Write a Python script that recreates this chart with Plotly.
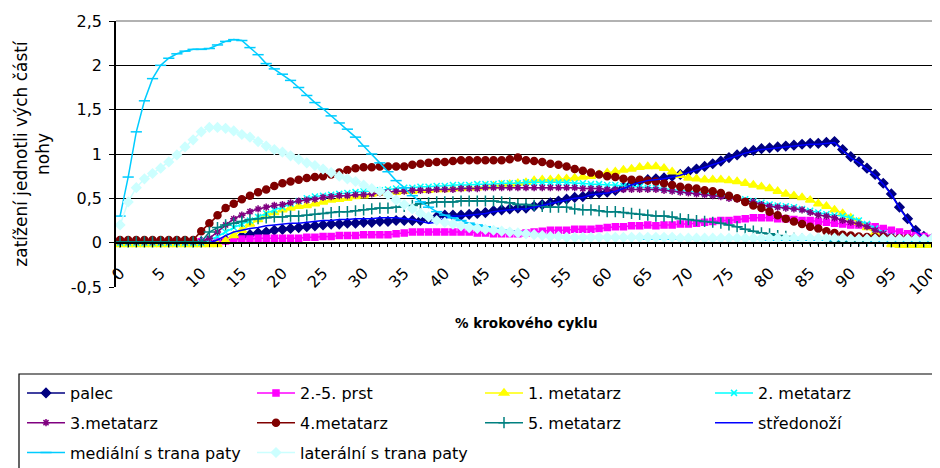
import plotly.graph_objects as go

# ---------------- data ----------------
pct = list(range(101))  # % krokového cyklu (categories 0..100)

x_tick_vals = [0, 5, 10, 15, 20, 25, 30, 35, 40, 45, 50, 55, 60, 65, 70, 75, 80, 85, 90, 95, 100]
x_tick_text = ["0", "5", "10", "15", "20", "25", "30", "35", "40", "45", "50",
               "55", "60", "65", "70", "75", "80", "85", "90", "95", "100"]
y_tick_vals = [-0.5, 0, 0.5, 1, 1.5, 2, 2.5]
y_tick_text = ["-0,5", "0", "0,5", "1", "1,5", "2", "2,5"]

palec = [
    0.01, 0.01, 0.01, 0.01, 0.01, 0.01, 0.01, 0.01, 0.01, 0.01,
    0.01, 0.01, 0.01, 0.03, 0.05, 0.07, 0.09, 0.11, 0.12, 0.14,
    0.15, 0.16, 0.17, 0.18, 0.19, 0.20, 0.21, 0.21, 0.22, 0.22,
    0.23, 0.23, 0.24, 0.24, 0.25, 0.25, 0.25, 0.25, 0.27, 0.29,
    0.31, 0.31, 0.31, 0.32, 0.33, 0.34, 0.36, 0.37, 0.38, 0.39,
    0.39, 0.41, 0.43, 0.45, 0.47, 0.49, 0.51, 0.52, 0.55, 0.56,
    0.57, 0.59, 0.62, 0.66, 0.69, 0.71, 0.72, 0.73, 0.75, 0.77,
    0.80, 0.83, 0.86, 0.89, 0.92, 0.96, 0.99, 1.02, 1.04, 1.06,
    1.07, 1.08, 1.09, 1.10, 1.11, 1.12, 1.12, 1.13, 1.14, 1.05,
    0.97, 0.91, 0.84, 0.77, 0.67, 0.55, 0.40, 0.27, 0.14, 0.07,
    0.04]

prst = [
    0.01, 0.01, 0.01, 0.01, 0.01, 0.01, 0.01, 0.01, 0.01, 0.01,
    0.01, 0.01, 0.01, 0.02, 0.03, 0.04, 0.04, 0.05, 0.05, 0.05,
    0.05, 0.05, 0.05, 0.06, 0.06, 0.07, 0.07, 0.08, 0.08, 0.08,
    0.09, 0.09, 0.09, 0.09, 0.10, 0.11, 0.12, 0.12, 0.12, 0.12,
    0.12, 0.12, 0.12, 0.12, 0.11, 0.11, 0.10, 0.10, 0.10, 0.10,
    0.11, 0.12, 0.13, 0.14, 0.14, 0.14, 0.15, 0.15, 0.15, 0.16,
    0.17, 0.18, 0.18, 0.19, 0.19, 0.20, 0.19, 0.20, 0.20, 0.21,
    0.21, 0.22, 0.23, 0.24, 0.25, 0.25, 0.26, 0.27, 0.28, 0.28,
    0.28, 0.27, 0.27, 0.26, 0.25, 0.25, 0.24, 0.23, 0.22, 0.21,
    0.20, 0.20, 0.19, 0.18, 0.16, 0.14, 0.12, 0.10, 0.08, 0.07,
    0.05]

metatarz1 = [
    -0.02, -0.02, -0.02, -0.02, -0.02, -0.02, -0.02, -0.02, -0.02, -0.02,
    -0.02, -0.02, -0.02, 0.02, 0.08, 0.14, 0.21, 0.26, 0.31, 0.34,
    0.37, 0.39, 0.41, 0.42, 0.44, 0.46, 0.48, 0.49, 0.50, 0.52,
    0.53, 0.55, 0.56, 0.57, 0.57, 0.58, 0.58, 0.59, 0.59, 0.60,
    0.60, 0.61, 0.61, 0.62, 0.62, 0.63, 0.64, 0.65, 0.66, 0.67,
    0.68, 0.70, 0.71, 0.71, 0.72, 0.72, 0.73, 0.74, 0.75, 0.77,
    0.79, 0.80, 0.82, 0.83, 0.85, 0.86, 0.86, 0.84, 0.80, 0.76,
    0.73, 0.72, 0.71, 0.71, 0.71, 0.70, 0.69, 0.67, 0.65, 0.63,
    0.61, 0.58, 0.55, 0.53, 0.51, 0.48, 0.44, 0.41, 0.37, 0.33,
    0.28, 0.23, 0.17, 0.11, 0.04, -0.02, -0.03, -0.03, -0.03, -0.03,
    -0.03]

metatarz2 = [
    0.00, 0.00, 0.00, 0.00, 0.00, 0.00, 0.00, 0.00, 0.00, 0.00,
    0.00, 0.03, 0.07, 0.12, 0.17, 0.21, 0.25, 0.29, 0.33, 0.37,
    0.40, 0.44, 0.47, 0.50, 0.52, 0.53, 0.54, 0.55, 0.56, 0.57,
    0.58, 0.58, 0.59, 0.60, 0.61, 0.62, 0.62, 0.63, 0.63, 0.64,
    0.64, 0.65, 0.65, 0.65, 0.66, 0.66, 0.66, 0.67, 0.67, 0.67,
    0.68, 0.68, 0.68, 0.68, 0.68, 0.68, 0.67, 0.67, 0.66, 0.66,
    0.65, 0.65, 0.64, 0.63, 0.63, 0.62, 0.62, 0.61, 0.60, 0.59,
    0.58, 0.57, 0.56, 0.55, 0.54, 0.52, 0.50, 0.49, 0.47, 0.45,
    0.43, 0.42, 0.41, 0.40, 0.38, 0.36, 0.34, 0.32, 0.31, 0.30,
    0.28, 0.25, 0.21, 0.16, 0.11, 0.07, 0.05, 0.04, 0.03, 0.03,
    0.02]

metatarz3 = [
    0.01, 0.01, 0.01, 0.01, 0.01, 0.01, 0.01, 0.01, 0.01, 0.01,
    0.01, 0.05, 0.12, 0.20, 0.27, 0.31, 0.35, 0.38, 0.40, 0.42,
    0.43, 0.45, 0.47, 0.48, 0.49, 0.51, 0.52, 0.53, 0.53, 0.54,
    0.54, 0.55, 0.56, 0.57, 0.58, 0.58, 0.59, 0.59, 0.59, 0.60,
    0.60, 0.60, 0.61, 0.61, 0.61, 0.62, 0.62, 0.62, 0.62, 0.62,
    0.62, 0.62, 0.62, 0.62, 0.62, 0.62, 0.62, 0.61, 0.61, 0.61,
    0.60, 0.60, 0.60, 0.60, 0.60, 0.60, 0.60, 0.59, 0.58, 0.57,
    0.56, 0.55, 0.54, 0.53, 0.52, 0.50, 0.49, 0.47, 0.46, 0.43,
    0.41, 0.40, 0.39, 0.38, 0.37, 0.34, 0.31, 0.30, 0.28, 0.25,
    0.23, 0.21, 0.18, 0.14, 0.10, 0.07, 0.06, 0.05, 0.05, 0.05,
    0.04]

metatarz4 = [
    0.03, 0.03, 0.03, 0.03, 0.03, 0.03, 0.03, 0.03, 0.03, 0.03,
    0.13, 0.22, 0.31, 0.39, 0.44, 0.49, 0.53, 0.57, 0.60, 0.64,
    0.67, 0.69, 0.71, 0.73, 0.74, 0.75, 0.77, 0.79, 0.82, 0.84,
    0.85, 0.85, 0.86, 0.86, 0.86, 0.86, 0.88, 0.89, 0.90, 0.91,
    0.91, 0.92, 0.93, 0.93, 0.93, 0.93, 0.93, 0.93, 0.94, 0.96,
    0.93, 0.92, 0.91, 0.89, 0.88, 0.86, 0.83, 0.81, 0.79, 0.77,
    0.75, 0.74, 0.72, 0.71, 0.71, 0.70, 0.69, 0.67, 0.65, 0.63,
    0.62, 0.61, 0.59, 0.58, 0.56, 0.53, 0.50, 0.46, 0.42, 0.39,
    0.35, 0.31, 0.27, 0.24, 0.21, 0.18, 0.16, 0.13, 0.11, 0.09,
    0.08, 0.07, 0.065, 0.06, 0.06, 0.05, 0.05, 0.05, 0.04, 0.04,
    0.03]

metatarz5 = [
    0.01, 0.01, 0.01, 0.01, 0.01, 0.01, 0.01, 0.01, 0.01, 0.01,
    0.01, 0.12, 0.17, 0.20, 0.22, 0.24, 0.26, 0.27, 0.28, 0.29,
    0.29, 0.30, 0.30, 0.31, 0.32, 0.33, 0.34, 0.35, 0.35, 0.36,
    0.37, 0.38, 0.39, 0.39, 0.40, 0.41, 0.42, 0.44, 0.45, 0.46,
    0.46, 0.46, 0.47, 0.47, 0.47, 0.47, 0.47, 0.46, 0.45, 0.43,
    0.43, 0.42, 0.41, 0.40, 0.40, 0.40, 0.38, 0.37, 0.37, 0.36,
    0.35, 0.35, 0.34, 0.33, 0.32, 0.31, 0.30, 0.30, 0.29, 0.27,
    0.26, 0.25, 0.24, 0.23, 0.22, 0.20, 0.18, 0.15, 0.13, 0.11,
    0.10, 0.08, 0.07, 0.05, 0.04, 0.03, 0.03, 0.03, 0.02, 0.02,
    0.02, 0.02, 0.02, 0.02, 0.02, 0.01, 0.01, 0.01, 0.01, 0.01,
    0.01]

stredonozi = [
    0.00, 0.00, 0.00, 0.00, 0.00, 0.00, 0.00, 0.00, 0.00, 0.00,
    0.00, 0.00, 0.03, 0.08, 0.12, 0.14, 0.16, 0.17, 0.19, 0.20,
    0.21, 0.22, 0.22, 0.23, 0.24, 0.25, 0.25, 0.26, 0.26, 0.27,
    0.27, 0.27, 0.28, 0.28, 0.28, 0.27, 0.26, 0.24, 0.22, 0.23,
    0.28, 0.30, 0.30, 0.31, 0.32, 0.33, 0.35, 0.36, 0.37, 0.38,
    0.38, 0.40, 0.42, 0.44, 0.46, 0.48, 0.50, 0.51, 0.54, 0.55,
    0.56, 0.58, 0.61, 0.65, 0.68, 0.70, 0.71, 0.72, 0.74, 0.76,
    0.79, 0.82, 0.85, 0.88, 0.91, 0.95, 0.98, 1.01, 1.03, 1.05,
    1.06, 1.07, 1.08, 1.09, 1.10, 1.11, 1.11, 1.12, 1.13, 1.04,
    0.96, 0.90, 0.83, 0.76, 0.66, 0.54, 0.39, 0.26, 0.13, 0.06,
    0.03]

medialni = [
    0.30, 0.74, 1.25, 1.60, 1.85, 2.00, 2.08, 2.13, 2.16, 2.18,
    2.18, 2.19, 2.23, 2.27, 2.29, 2.28, 2.20, 2.12, 2.02, 1.96,
    1.90, 1.83, 1.75, 1.66, 1.58, 1.51, 1.43, 1.35, 1.28, 1.19,
    1.09, 1.00, 0.90, 0.80, 0.70, 0.62, 0.53, 0.46, 0.40, 0.35,
    0.31, 0.28, 0.25, 0.22, 0.20, 0.18, 0.16, 0.14, 0.13, 0.12,
    0.11, 0.10, 0.09, 0.08, 0.07, 0.06, 0.06, 0.05, 0.05, 0.05,
    0.05, 0.05, 0.05, 0.05, 0.05, 0.04, 0.04, 0.04, 0.04, 0.04,
    0.04, 0.04, 0.04, 0.04, 0.04, 0.04, 0.04, 0.04, 0.04, 0.04,
    0.03, 0.03, 0.03, 0.03, 0.03, 0.03, 0.03, 0.03, 0.03, 0.03,
    0.03, 0.03, 0.03, 0.02, 0.02, 0.02, 0.02, 0.02, 0.02, 0.02,
    0.02]

lateralni = [
    0.20, 0.46, 0.62, 0.72, 0.78, 0.84, 0.91, 0.99, 1.08, 1.16,
    1.25, 1.30, 1.30, 1.29, 1.26, 1.22, 1.19, 1.14, 1.09, 1.05,
    1.02, 0.98, 0.94, 0.90, 0.87, 0.83, 0.79, 0.75, 0.72, 0.69,
    0.65, 0.61, 0.58, 0.54, 0.48, 0.43, 0.38, 0.33, 0.29, 0.25,
    0.23, 0.21, 0.19, 0.17, 0.16, 0.15, 0.14, 0.13, 0.12, 0.11,
    0.10, 0.09, 0.08, 0.07, 0.07, 0.06, 0.06, 0.06, 0.06, 0.06,
    0.06, 0.06, 0.06, 0.06, 0.06, 0.06, 0.06, 0.06, 0.06, 0.05,
    0.05, 0.05, 0.05, 0.05, 0.05, 0.05, 0.05, 0.05, 0.05, 0.05,
    0.05, 0.05, 0.05, 0.05, 0.05, 0.05, 0.05, 0.05, 0.05, 0.05,
    0.04, 0.04, 0.04, 0.04, 0.04, 0.04, 0.04, 0.04, 0.04, 0.04,
    0.04]

series_names = ["palec", "2.-5. prst", "1. metatarz", "2. metatarz", "3.metatarz",
                "4.metatarz", "5. metatarz", "středonoží",
                "mediální s trana paty", "laterální s trana paty"]
series_values = [palec, prst, metatarz1, metatarz2, metatarz3,
                 metatarz4, metatarz5, stredonozi, medialni, lateralni]

# ---------------- styles ----------------
colors = ["#000080", "#FF00FF", "#FFFF00", "#00FFFF", "#800080",
          "#800000", "#008080", "#0000FF", "#00CCFF", "#CCFFFF"]
symbols = ["diamond", "square", "triangle-up", "x-thin-open", "asterisk-open",
           "circle", "cross-thin-open", None, "line-ew-open", "diamond"]
sizes = [7, 6, 8, 6, 6, 7, 8, 0, 8, 7]
legend_of = ["legend", "legend2", "legend3", "legend4", "legend",
             "legend2", "legend3", "legend4", "legend", "legend2"]

FONT = "DejaVu Sans, Verdana, sans-serif"

fig = go.Figure()
for i, (nm, vals) in enumerate(zip(series_names, series_values)):
    if symbols[i] is None:
        mode = "lines"
        marker = None
    else:
        mode = "lines+markers"
        marker = dict(symbol=symbols[i], size=sizes[i], color=colors[i],
                      line=dict(color=colors[i], width=1.5))
    fig.add_trace(go.Scatter(
        x=pct, y=vals, name=nm, mode=mode,
        line=dict(color=colors[i], width=1.5),
        marker=marker, legend=legend_of[i], legendgroup=f"g{i}",
    ))

# The page body has an 8px default margin, so the figure is laid out in
# page pixels shifted by OFF.
OFF = 8
W, H = 940 - OFF, 468 - OFF
PLOT_L, PLOT_R, PLOT_T, PLOT_B = 116, 936, 21, 287   # page pixels
ML, MR = PLOT_L - OFF, W - (PLOT_R - OFF)
MT, MB = PLOT_T - OFF, H - (PLOT_B - OFF)
PW, PH = PLOT_R - PLOT_L, PLOT_B - PLOT_T


def px_x(p):
    return (p - PLOT_L) / PW


def px_y(p):
    return (PLOT_B - p) / PH


legend_common = dict(orientation="v", traceorder="grouped", tracegroupgap=6,
                     font=dict(family=FONT, size=16, color="#000000"),
                     bgcolor="rgba(0,0,0,0)", borderwidth=0,
                     xanchor="left", yanchor="top", itemwidth=38)
LEG_TOP = 376

fig.update_layout(
    width=W, height=H,
    margin=dict(l=ML, r=MR, t=MT, b=MB, autoexpand=False),
    paper_bgcolor="white", plot_bgcolor="white",
    font=dict(family=FONT, size=15, color="#000000"),
    legend=dict(x=px_x(22), y=px_y(LEG_TOP), **legend_common),
    legend2=dict(x=px_x(252), y=px_y(LEG_TOP), **legend_common),
    legend3=dict(x=px_x(480), y=px_y(LEG_TOP), **legend_common),
    legend4=dict(x=px_x(710), y=px_y(LEG_TOP), **legend_common),
    xaxis=dict(
        range=[-0.5, 100.5], anchor="free", position=1 / 6,
        tickmode="array", tickvals=x_tick_vals, ticktext=x_tick_text,
        tickangle=-45, ticks="outside", ticklen=4, tickcolor="black",
        ticklabeloverflow="allow", ticklabelstandoff=10,
        minor=dict(dtick=1, ticks="outside", ticklen=4, tickcolor="black", showgrid=False),
        showline=True, linecolor="black", linewidth=1.5,
        showgrid=False, zeroline=False,
        tickfont=dict(family=FONT, size=16, color="#000000"),
    ),
    yaxis=dict(
        range=[-0.5, 2.5], tickmode="array", tickvals=y_tick_vals, ticktext=y_tick_text,
        ticks="outside", ticklen=5, tickcolor="black", ticklabelstandoff=4,
        showline=True, linecolor="black", linewidth=1.5,
        showgrid=True, gridcolor="black", gridwidth=1.2, zeroline=False,
        tickfont=dict(family=FONT, size=16, color="#000000"),
        title=dict(text="zatížení jednotli vých částí<br>nohy", standoff=17,
                   font=dict(family=FONT, size=17, color="#000000")),
    ),
    shapes=[
        dict(type="rect", xref="paper", yref="paper",
             x0=px_x(19), x1=px_x(937), y0=px_y(472), y1=px_y(374),
             line=dict(color="black", width=1.2), fillcolor="rgba(0,0,0,0)"),
        dict(type="line", xref="paper", yref="paper", x0=0, x1=1, y0=1, y1=1,
             line=dict(color="#999999", width=1.5)),
    ],
    annotations=[
        dict(text="<b>% krokového cyklu</b>", xref="paper", yref="paper",
             x=px_x(526), y=px_y(323), xanchor="center", yanchor="middle",
             showarrow=False, font=dict(family=FONT, size=13.5, color="#000000")),
    ],
    showlegend=True,
)

fig.write_html("out.html")
